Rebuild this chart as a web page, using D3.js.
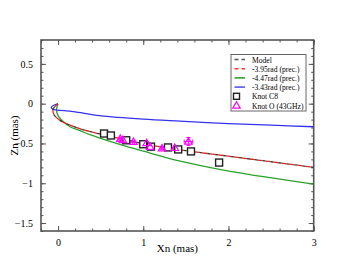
<!DOCTYPE html>
<html>
<head>
<meta charset="utf-8">
<script src="https://cdn.jsdelivr.net/npm/d3@7"></script>
<style>
  body { margin: 0; background: #fff; }
  svg text { font-family: "Liberation Serif", "DejaVu Serif", serif; }
</style>
</head>
<body>
<div id="chart"></div>
<script>
// curves, [Xn, Zn] in mas
const modelCurve = [[0,0],[-0.035,-0.034],[-0.06,-0.075],[-0.047,-0.14],[0.023,-0.21],[0.14,-0.27],[0.30,-0.33],[0.49,-0.38],[0.8,-0.455],[1.08,-0.52],[1.5,-0.59],[2.0,-0.66],[2.5,-0.73],[3.0,-0.80]];
const prec395 = modelCurve;
const prec447 = [[0,0],[-0.018,-0.075],[0,-0.15],[0.047,-0.21],[0.14,-0.29],[0.26,-0.34],[0.375,-0.39],[0.61,-0.475],[0.84,-0.55],[1.08,-0.62],[1.31,-0.69],[1.66,-0.775],[2.02,-0.85],[2.49,-0.93],[3.0,-1.01]];
const prec343 = [[0,0],[-0.05,-0.02],[-0.08,-0.045],[-0.06,-0.07],[-0.01,-0.08],[0.18,-0.10],[0.49,-0.15],[1.0,-0.195],[1.43,-0.22],[2.0,-0.25],[2.5,-0.27],[3.0,-0.29]];

// knots
const knotC8X = [0.54, 0.62, 0.80, 1.0, 1.09, 1.29, 1.41, 1.56, 1.89];
const knotC8Z = [-0.375, -0.40, -0.46, -0.51, -0.54, -0.55, -0.575, -0.60, -0.74];
const knotOX = [0.73, 0.76, 0.885, 1.04, 1.08, 1.22, 1.37, 1.53];
const knotOZ = [-0.44, -0.455, -0.48, -0.495, -0.54, -0.56, -0.555, -0.475];
const knotOErr = [0.012, 0.012, 0.012, 0.012, 0.012, 0.012, 0.012, 0.05];

const xTicks = [0, 1, 2, 3];
const yTicks = [0.5, 0, -0.5, -1, -1.5];
const legendLabels = ["Model", "-3.95rad (prec.)", "-4.47rad (prec.)", "-3.43rad (prec.)", "Knot C8", "Knot O (43GHz)"];

const width = 353, height = 273;
const margin = {top: 40, right: 39.3, bottom: 42, left: 41};
const iw = width - margin.left - margin.right;
const ih = height - margin.top - margin.bottom;

const x = d3.scaleLinear().domain([-0.2, 3]).range([0, iw]);
const y = d3.scaleLinear().domain([-1.6, 0.8]).range([ih, 0]);

const svg = d3.select("#chart").append("svg")
  .attr("width", width)
  .attr("height", height);

const g = svg.append("g")
  .attr("transform", "translate(" + margin.left + "," + margin.top + ")");

const defs = svg.append("defs");
defs.append("clipPath").attr("id", "clip")
  .append("rect").attr("width", iw).attr("height", ih);

// inward ticks on all four sides
const frameColor = "#555";
function addAxis(axis, transform) {
  const a = g.append("g").attr("transform", transform).call(axis);
  a.select(".domain").remove();
  a.selectAll("line").attr("stroke", frameColor).attr("stroke-width", 1);
  a.selectAll("text").attr("font-size", 10).attr("fill", "#000")
    .attr("font-family", "Liberation Serif, serif");
  return a;
}
const xMinor = d3.range(-0.2, 3.001, 0.2);
const yMinor = d3.range(-1.6, 0.801, 0.1);

addAxis(d3.axisBottom(x).tickValues(xMinor).tickSize(-2.5).tickFormat(""), "translate(0," + ih + ")");
addAxis(d3.axisBottom(x).tickValues(xTicks).tickSize(-5).tickPadding(8).tickFormat(d3.format("d")), "translate(0," + ih + ")");
addAxis(d3.axisTop(x).tickValues(xMinor).tickSize(-2.5).tickFormat(""), "translate(0,0)");
addAxis(d3.axisTop(x).tickValues(xTicks).tickSize(-5).tickFormat(""), "translate(0,0)");
addAxis(d3.axisLeft(y).tickValues(yMinor).tickSize(-2.5).tickFormat(""), "translate(0,0)");
addAxis(d3.axisLeft(y).tickValues(yTicks).tickSize(-5).tickPadding(8).tickFormat(d => d === 0 ? "0" : d3.format("")(d)), "translate(0,0)");
addAxis(d3.axisRight(y).tickValues(yMinor).tickSize(-2.5).tickFormat(""), "translate(" + iw + ",0)");
addAxis(d3.axisRight(y).tickValues(yTicks).tickSize(-5).tickFormat(""), "translate(" + iw + ",0)");

// frame
g.append("rect")
  .attr("width", iw).attr("height", ih)
  .attr("fill", "none").attr("stroke", frameColor).attr("stroke-width", 1.6);

const line = d3.line()
  .x(d => x(d[0])).y(d => y(d[1]))
  .curve(d3.curveCatmullRom.alpha(0.5));

const curves = g.append("g").attr("clip-path", "url(#clip)");

curves.append("path").datum(prec447)
  .attr("d", line).attr("fill", "none").attr("stroke", "#2ca02c").attr("stroke-width", 1.3);
curves.append("path").datum(prec343)
  .attr("d", line).attr("fill", "none").attr("stroke", "#3333ee").attr("stroke-width", 1.3);
curves.append("path").datum(prec395)
  .attr("d", line).attr("fill", "none").attr("stroke", "#e8201c").attr("stroke-width", 1.3)
  .attr("stroke-dasharray", "5,3");
curves.append("path").datum(modelCurve)
  .attr("d", line).attr("fill", "none").attr("stroke", "#333").attr("stroke-width", 1.3)
  .attr("stroke-dasharray", "3,5").attr("stroke-dashoffset", -5);

// knot O error bars and triangles
const knotO = knotOX.map((v, i) => ({x: v, z: knotOZ[i], e: knotOErr[i]}));
const tri = d3.symbol().type(d3.symbolTriangle).size(24);
const eb = g.append("g").attr("stroke", "#ff00ff").attr("stroke-width", 1);
knotO.forEach(d => {
  const cx = x(d.x), cy = y(d.z), h = y(d.z - d.e) - cy, w = x(d.x + d.e) - cx;
  eb.append("line").attr("x1", cx).attr("x2", cx).attr("y1", cy - h).attr("y2", cy + h);
  eb.append("line").attr("x1", cx - w).attr("x2", cx + w).attr("y1", cy).attr("y2", cy);
  eb.append("line").attr("x1", cx - 2).attr("x2", cx + 2).attr("y1", cy - h).attr("y2", cy - h);
  eb.append("line").attr("x1", cx - 2).attr("x2", cx + 2).attr("y1", cy + h).attr("y2", cy + h);
  eb.append("line").attr("x1", cx - w).attr("x2", cx - w).attr("y1", cy - 2).attr("y2", cy + 2);
  eb.append("line").attr("x1", cx + w).attr("x2", cx + w).attr("y1", cy - 2).attr("y2", cy + 2);
});

// knot C8 squares
const knotC8 = knotC8X.map((v, i) => ({x: v, z: knotC8Z[i]}));
g.append("g").selectAll("rect").data(knotC8).enter().append("rect")
  .attr("x", d => x(d.x) - 3.5).attr("y", d => y(d.z) - 3.5)
  .attr("width", 7).attr("height", 7)
  .attr("fill", "#fff").attr("stroke", "#222").attr("stroke-width", 1.4);

g.append("g").selectAll("path").data(knotO).enter().append("path")
  .attr("d", tri)
  .attr("transform", d => "translate(" + x(d.x) + "," + (y(d.z) + 0.5) + ")")
  .attr("fill", "none").attr("stroke", "#ff00ff").attr("stroke-width", 1.2);

// axis labels
svg.append("text")
  .attr("x", margin.left + iw / 2).attr("y", 252)
  .attr("text-anchor", "middle").attr("font-size", 11)
  .text("Xn (mas)");
svg.append("text")
  .attr("transform", "translate(18," + (margin.top + ih / 2) + ") rotate(-90)")
  .attr("text-anchor", "middle").attr("font-size", 11)
  .text("Zn (mas)");

// legend
const lg = svg.append("g").attr("transform", "translate(231,54.5)");
lg.append("rect").attr("width", 75).attr("height", 56.5)
  .attr("fill", "#fff").attr("stroke", "#666").attr("stroke-width", 1);
const rowY = i => 5 + i * 9.2;
const legendStyles = [
  {stroke: "#555", dash: "4,3"},
  {stroke: "#ff3333", dash: "4,3"},
  {stroke: "#2ca02c", dash: null},
  {stroke: "#5555ff", dash: null}
];
legendLabels.forEach((t, i) => {
  const yy = rowY(i);
  if (i < 4) {
    lg.append("line").attr("x1", 3.5).attr("x2", 14).attr("y1", yy).attr("y2", yy)
      .attr("stroke", legendStyles[i].stroke).attr("stroke-width", 1.6)
      .attr("stroke-dasharray", legendStyles[i].dash);
  } else if (i === 4) {
    lg.append("rect").attr("x", 2.5).attr("y", yy - 3).attr("width", 6).attr("height", 6)
      .attr("fill", "none").attr("stroke", "#222").attr("stroke-width", 1.4);
  } else {
    lg.append("path").attr("d", tri)
      .attr("transform", "translate(5.5," + (yy + 0.5) + ")")
      .attr("fill", "none").attr("stroke", "#ff00ff").attr("stroke-width", 1.2);
  }
  lg.append("text").attr("x", 21).attr("y", yy + 3).attr("font-size", 7.6).text(t);
});
</script>
</body>
</html>
